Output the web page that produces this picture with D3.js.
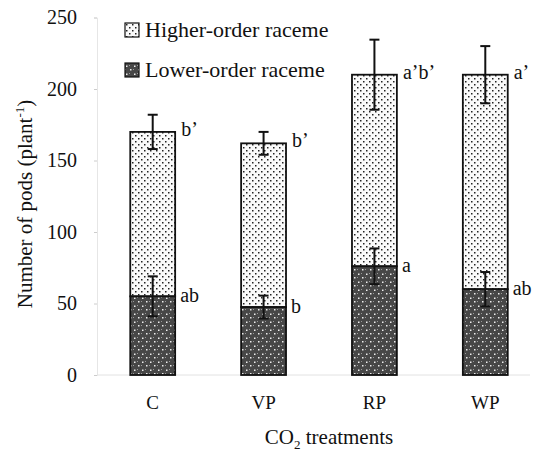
<!DOCTYPE html>
<html><head><meta charset="utf-8">
<script src="https://cdn.jsdelivr.net/npm/d3@7"></script>
<style>body{margin:0;background:#fff}svg{display:block}</style>
</head><body>
<svg id="c" width="539" height="452"></svg>
<script>
const categories = ["C", "VP", "RP", "WP"];
const lowerValues = [55, 47.5, 76, 60];
const lowerErr = [14, 8, 12.5, 12];
const lowerLetters = ["ab", "b", "a", "ab"];
const higherValues = [115, 114.5, 134, 150];
const totalErr = [12, 8, 24.5, 20];
const totalLetters = ["b\u2019", "b\u2019", "a\u2019b\u2019", "a\u2019"];
const yTicks = [0, 50, 100, 150, 200, 250];
const seriesNames = ["Higher-order raceme", "Lower-order raceme"];

const FONT = "Liberation Serif";
const svg = d3.select("#c");
const defs = svg.append("defs");
const p1 = defs.append("pattern").attr("id","hi").attr("patternUnits","userSpaceOnUse").attr("width",6).attr("height",6);
p1.append("rect").attr("width",6).attr("height",6).attr("fill","#fafafa");
p1.append("rect").attr("x",0).attr("y",0).attr("width",1.5).attr("height",1.5).attr("fill","#222");
p1.append("rect").attr("x",3).attr("y",3).attr("width",1.5).attr("height",1.5).attr("fill","#222");
const p2 = defs.append("pattern").attr("id","lo").attr("patternUnits","userSpaceOnUse").attr("width",8).attr("height",8);
p2.append("rect").attr("width",8).attr("height",8).attr("fill","#474747");
p2.append("rect").attr("x",1).attr("y",1).attr("width",1).attr("height",1).attr("fill","#999");
p2.append("rect").attr("x",5).attr("y",5).attr("width",1).attr("height",1).attr("fill","#999");
p2.append("rect").attr("x",2).attr("y",5).attr("width",1.5).attr("height",1.5).attr("fill","#eee");
p2.append("rect").attr("x",6).attr("y",1.5).attr("width",1.5).attr("height",1.5).attr("fill","#eee");

const x = d3.scaleBand().domain(categories).range([97, 541]).paddingInner(0.595).paddingOuter(0.3);
const y = d3.scaleLinear().domain([0, 250]).range([375, 17.5]);

const ya = svg.append("g").attr("transform","translate(97,0)")
  .call(d3.axisLeft(y).tickValues(yTicks).tickSize(3).tickPadding(17));
ya.select(".domain").attr("stroke","#e6e6e6");
ya.selectAll(".tick line").attr("stroke","#ccc");
ya.selectAll(".tick text").style("font-size","20px").style("font-family",FONT).attr("fill","#111");

svg.append("line").attr("x1",97).attr("x2",530).attr("y1",y(0)).attr("y2",y(0)).attr("stroke","#e2e2e2");

const txt = (sel)=>sel.append("text").style("font-family",FONT).attr("fill","#111");

const g = svg.append("g");
categories.forEach((c,i)=>{
  const bx = x(c), bw = x.bandwidth();
  const tot = lowerValues[i] + higherValues[i];
  g.append("rect").attr("x",bx).attr("y",y(tot)).attr("width",bw).attr("height",y(lowerValues[i])-y(tot))
   .attr("fill","url(#hi)").attr("stroke","#111").attr("stroke-width",1.8);
  g.append("rect").attr("x",bx).attr("y",y(lowerValues[i])).attr("width",bw).attr("height",y(0)-y(lowerValues[i]))
   .attr("fill","url(#lo)").attr("stroke","#111").attr("stroke-width",1.8);
  const cx = bx + bw/2;
  const eb = (v,e)=>{
    g.append("line").attr("x1",cx).attr("x2",cx).attr("y1",y(v+e)).attr("y2",y(v-e)).attr("stroke","#111").attr("stroke-width",2);
    [v+e, v-e].forEach(t=>g.append("line").attr("x1",cx-5).attr("x2",cx+5).attr("y1",y(t)).attr("y2",y(t)).attr("stroke","#111").attr("stroke-width",2));
  };
  eb(tot, totalErr[i]);
  eb(lowerValues[i], lowerErr[i]);
  txt(g).attr("x",bx+bw+6).attr("y",y(tot)+4).style("font-size","20px").text(totalLetters[i]);
  txt(g).attr("x",bx+bw+5).attr("y",y(lowerValues[i])+6).style("font-size","20px").text(lowerLetters[i]);
  txt(svg).attr("x",cx).attr("y",409).attr("text-anchor","middle").style("font-size","19px").text(c);
});

const leg = svg.append("g");
seriesNames.forEach((n,i)=>{
  const ly = 30 + i*40;
  leg.append("rect").attr("x",125).attr("y",ly-7).attr("width",14).attr("height",14)
    .attr("fill", i===0 ? "url(#hi)" : "url(#lo)").attr("stroke","#111").attr("stroke-width",1.2);
  txt(leg).attr("x",145).attr("y",ly+7).style("font-size","22px").text(n);
});

const yt = txt(svg).attr("transform","translate(32,204) rotate(-90)").attr("text-anchor","middle").style("font-size","21px");
yt.append("tspan").text("Number of pods (plant");
yt.append("tspan").attr("dy",-8).style("font-size","13px").text("-1");
yt.append("tspan").attr("dy",8).text(")");
const xt = txt(svg).attr("x",329).attr("y",444).attr("text-anchor","middle").style("font-size","21px");
xt.append("tspan").text("CO");
xt.append("tspan").attr("dy",5).style("font-size","13px").text("2");
xt.append("tspan").attr("dy",-5).text(" treatments");
</script>
</body></html>
